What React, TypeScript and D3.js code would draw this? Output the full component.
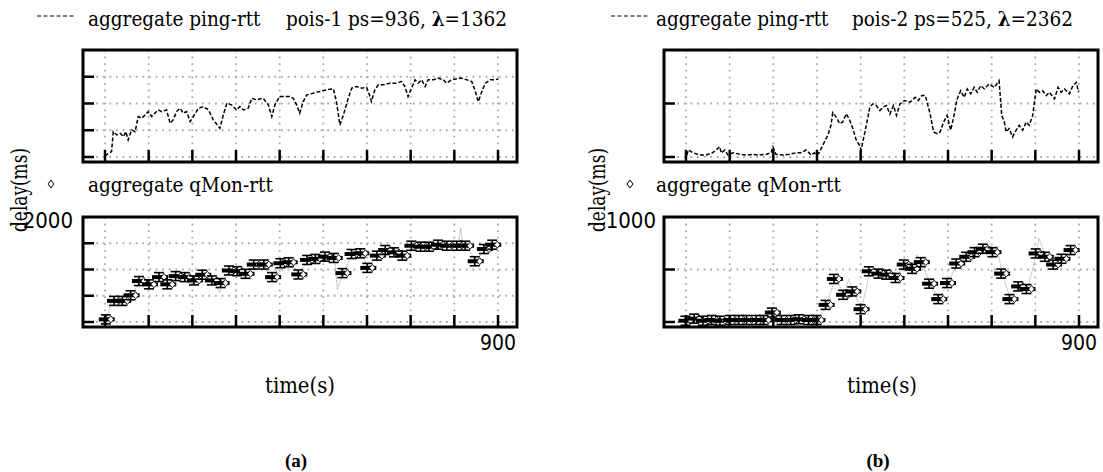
import React from "react";
import * as d3 from "d3";

// ---------- data ----------
const xTickValues = [0, 100, 200, 300, 400, 500, 600, 700, 800, 900];
const yTicksA = [0, 500, 1000, 1500];
const yTicksB = [0, 500];

const pingTimeA = [0, 8, 15, 19, 27, 35, 42, 48, 53, 61, 69, 76, 84, 92, 99, 107, 114, 122, 130, 141, 149, 156, 164, 172, 179, 187, 195, 202, 214, 225, 237, 248, 263, 271, 279, 290, 301, 309, 317, 328, 336, 347, 362, 374, 382, 389, 400, 412, 423, 431, 439, 446, 454, 462, 477, 492, 507, 523, 530, 538, 546, 557, 565, 576, 588, 599, 607, 610, 618, 626, 637, 652, 668, 679, 687, 694, 702, 710, 717, 725, 733, 740, 752, 763, 775, 782, 794, 806, 817, 829, 840, 848, 855, 863, 871, 882, 894, 901];
const pingValA = [20, 69, 100, 474, 412, 443, 381, 474, 318, 506, 474, 755, 724, 787, 849, 755, 818, 880, 849, 880, 631, 693, 849, 911, 818, 849, 662, 755, 911, 943, 880, 693, 537, 787, 1005, 974, 880, 943, 880, 911, 1099, 1068, 1099, 974, 755, 974, 1130, 1130, 1130, 1099, 974, 818, 1036, 1161, 1193, 1224, 1255, 1274, 1036, 599, 787, 1099, 1286, 1318, 1286, 1305, 1130, 1036, 1255, 1349, 1349, 1380, 1380, 1411, 1318, 1130, 1286, 1442, 1380, 1442, 1318, 1442, 1442, 1474, 1442, 1380, 1442, 1461, 1474, 1442, 1411, 1224, 1036, 1224, 1380, 1442, 1442, 1461];

const qTimeA = [4, 23, 42, 61, 80, 103, 126, 145, 164, 185, 206, 225, 247, 267, 286, 305, 324, 343, 366, 385, 404, 423, 445, 465, 484, 506, 526, 546, 567, 587, 603, 625, 644, 664, 683, 704, 725, 744, 765, 785, 808, 827, 849, 870, 889];
const qValA = [50, 402, 402, 509, 780, 717, 855, 717, 874, 855, 792, 900, 792, 742, 981, 968, 918, 1094, 1094, 855, 1119, 1138, 906, 1182, 1201, 1245, 1220, 931, 1295, 1308, 1031, 1264, 1371, 1327, 1264, 1453, 1434, 1434, 1472, 1453, 1453, 1453, 1157, 1390, 1472];

const qRawTimeA = [4, 14, 23, 42, 61, 80, 103, 126, 145, 155, 164, 185, 195, 206, 225, 247, 263, 267, 286, 305, 324, 343, 366, 378, 385, 404, 423, 445, 465, 484, 506, 526, 532, 545, 567, 587, 603, 625, 644, 664, 683, 690, 704, 725, 744, 765, 785, 808, 815, 820, 827, 849, 870, 889];
const qRawValA = [50, 380, 402, 402, 509, 780, 717, 855, 717, 700, 874, 855, 730, 792, 900, 792, 560, 742, 981, 968, 918, 1094, 1094, 800, 855, 1119, 1138, 906, 1182, 1201, 1245, 1220, 620, 931, 1295, 1308, 1031, 1264, 1371, 1327, 1264, 1150, 1453, 1434, 1434, 1472, 1453, 1453, 1790, 1453, 1453, 1157, 1390, 1472];

const pingTimeB = [2, 5, 16, 31, 46, 61, 69, 77, 81, 89, 96, 108, 123, 138, 153, 168, 184, 195, 199, 206, 222, 237, 252, 264, 275, 287, 294, 298, 305, 317, 325, 332, 336, 344, 352, 359, 367, 375, 382, 390, 397, 401, 405, 413, 421, 428, 436, 444, 451, 459, 467, 475, 482, 490, 501, 513, 525, 532, 540, 548, 559, 567, 575, 582, 590, 598, 606, 613, 621, 629, 637, 644, 652, 660, 667, 675, 683, 694, 706, 717, 723, 729, 733, 740, 748, 756, 763, 771, 779, 786, 794, 802, 809, 817, 825, 832, 844, 852, 859, 867, 878, 886, 894, 899];
const pingValB = [18, 65, 40, 18, 18, 40, 65, 96, 37, 65, 18, 40, 25, 18, 25, 18, 25, 40, 96, 25, 18, 25, 40, 40, 65, 18, 40, 18, 40, 142, 204, 296, 414, 373, 312, 327, 404, 343, 266, 157, 111, 65, 142, 296, 466, 497, 481, 435, 466, 481, 401, 481, 389, 497, 528, 512, 558, 528, 574, 574, 404, 234, 219, 234, 327, 389, 250, 373, 543, 620, 558, 636, 590, 651, 605, 667, 636, 682, 651, 713, 389, 327, 234, 266, 188, 250, 296, 250, 327, 296, 389, 636, 605, 620, 574, 605, 543, 651, 605, 636, 590, 667, 697, 605];

const qTimeB = [1, 21, 41, 61, 80, 103, 123, 141, 163, 180, 199, 221, 242, 261, 283, 301, 322, 341, 362, 383, 402, 421, 443, 461, 482, 501, 520, 540, 559, 580, 600, 621, 644, 663, 682, 704, 724, 743, 763, 782, 803, 824, 843, 862, 883];
const qValB = [12, 32, 12, 19, 12, 19, 19, 19, 19, 19, 90, 19, 19, 26, 19, 19, 163, 410, 259, 291, 122, 483, 461, 451, 419, 547, 506, 570, 365, 218, 371, 557, 621, 665, 698, 665, 461, 218, 339, 314, 653, 621, 547, 602, 685];

const qRawTimeB = [1, 21, 41, 61, 80, 103, 123, 141, 163, 180, 190, 199, 221, 242, 261, 283, 301, 322, 341, 352, 362, 372, 383, 402, 421, 443, 461, 482, 501, 512, 520, 528, 540, 559, 580, 590, 600, 621, 644, 663, 682, 704, 712, 724, 743, 763, 782, 803, 808, 824, 843, 852, 862, 883];
const qRawValB = [12, 32, 12, 19, 12, 19, 19, 19, 19, 19, 115, 90, 19, 19, 26, 19, 19, 163, 410, 340, 259, 403, 291, 122, 483, 461, 451, 419, 547, 520, 506, 640, 570, 365, 218, 300, 371, 557, 621, 665, 698, 665, 720, 461, 218, 339, 314, 653, 800, 621, 547, 610, 602, 685];

const yTopLabelA = "2000";
const yTopLabelB = "1000";
const xEndLabel = "900";

// ---------- layout ----------
const serif = "'DejaVu Serif Condensed', 'DejaVu Serif', serif";
const sansN = "'Liberation Sans Narrow', 'DejaVu Sans Condensed', sans-serif";
const GRID = "#aaaaaa";

type PanelProps = {
  x0: number;
  x900: number;
  fl: number;
  fr: number;
  ft: number;
  fb: number;
  y0: number;
  yTopVal: number;
  yTicks: number[];
  children: (xs: d3.ScaleLinear<number, number>, ys: d3.ScaleLinear<number, number>) => React.ReactNode;
};

function Panel({ x0, x900, fl, fr, ft, fb, y0, yTopVal, yTicks, children }: PanelProps) {
  const xs = d3.scaleLinear().domain([0, 900]).range([x0, x900]);
  const ys = d3.scaleLinear().domain([0, yTopVal]).range([y0, ft]);
  return (
    <g>
      {xTickValues.map((t) => (
        <line key={"gx" + t} x1={xs(t)} x2={xs(t)} y1={ft} y2={fb} stroke={GRID} strokeWidth={1.8} strokeDasharray="1.8,4.8" />
      ))}
      {yTicks.map((v) => (
        <line key={"gy" + v} x1={fl} x2={fr} y1={ys(v)} y2={ys(v)} stroke={GRID} strokeWidth={1.8} strokeDasharray="1.8,4.8" />
      ))}
      {children(xs, ys)}
      {xTickValues.map((t) => (
        <line key={"tx" + t} x1={xs(t)} x2={xs(t)} y1={fb} y2={fb - 12} stroke="#000" strokeWidth={2.5} />
      ))}
      {yTicks.map((v) => (
        <line key={"ty" + v} x1={fl} x2={fl + 11} y1={ys(v)} y2={ys(v)} stroke="#000" strokeWidth={2.5} />
      ))}
      <rect x={fl} y={ft} width={fr - fl} height={fb - ft} fill="none" stroke="#000" strokeWidth={3} />
    </g>
  );
}

function pingPath(xs: any, ys: any, ts: number[], vs: number[]) {
  const line = d3.line<number>().x((_, i) => xs(ts[i])).y((d) => ys(d));
  return <path d={line(vs) || ""} fill="none" stroke="#000" strokeWidth={1.5} strokeDasharray="4,2" />;
}

function qMarks(xs: any, ys: any, ts: number[], vs: number[], rts: number[], rvs: number[]) {
  const line = d3.line<number>().x((_, i) => xs(rts[i])).y((d) => ys(d));
  return (
    <g>
      <path d={line(rvs) || ""} fill="none" stroke="#999" strokeWidth={1} strokeDasharray="1,1" />
      {vs.map((v, i) => {
        const cx = xs(ts[i]);
        const cy = ys(v);
        return (
          <g key={i}>
            <rect x={cx - 8} y={cy - 2} width={16} height={4} fill="#000" />
            <line x1={cx - 1} x2={cx - 1} y1={cy - 4.5} y2={cy + 4.5} stroke="#000" strokeWidth={1.6} />
            <line x1={cx - 6} x2={cx + 4} y1={cy - 4.5} y2={cy - 4.5} stroke="#000" strokeWidth={1.6} />
            <line x1={cx - 6} x2={cx + 4} y1={cy + 4.5} y2={cy + 4.5} stroke="#000" strokeWidth={1.6} />
            <path d={`M${cx + 4},${cy - 3.5} L${cx + 7},${cy} L${cx + 4},${cy + 3.5} L${cx + 1},${cy} Z`} fill="#fff" stroke="#000" strokeWidth={0.9} />
          </g>
        );
      })}
    </g>
  );
}

function Diamond({ x, y }: { x: number; y: number }) {
  return <path d={`M${x},${y - 4} L${x + 3},${y} L${x},${y + 4} L${x - 3},${y} Z`} fill="#fff" stroke="#000" strokeWidth={1} />;
}

export default function App() {
  const OFF = 581;
  const lambdaTitle = (pre: string, post: string, x: number) => (
    <text x={x} y={26} textAnchor="end" fontFamily={serif} fontSize={20.5} fill="#000">
      {pre}
      <tspan fontWeight="bold">λ</tspan>
      {post}
    </text>
  );
  const legText = (label: string, x: number, y: number) => (
    <text x={x} y={y} fontFamily={serif} fontSize={20.5}>{label}</text>
  );
  return (
    <svg width={1103} height={472} style={{ position: "absolute", left: 0, top: 0, background: "#fff" }}>
      <rect x={0} y={0} width={1103} height={472} fill="#fff" />
      {/* legends */}
      <line x1={37} x2={75} y1={16} y2={16} stroke="#000" strokeWidth={1} strokeDasharray="4,2.5" />
      {legText("aggregate ping-rtt", 88, 26)}
      {lambdaTitle("pois-1 ps=936, ", "=1362", 507)}
      <Diamond x={51} y={184} />
      {legText("aggregate qMon-rtt", 88, 192)}

      <line x1={611} x2={649} y1={16} y2={16} stroke="#000" strokeWidth={1} strokeDasharray="4,2.5" />
      {legText("aggregate ping-rtt", 656, 26)}
      {lambdaTitle("pois-2 ps=525, ", "=2362", 1073)}
      <Diamond x={630} y={184} />
      {legText("aggregate qMon-rtt", 656, 192)}

      {/* panels */}
      <Panel x0={105} x900={498} fl={83} fr={517} ft={50} fb={162} y0={157} yTopVal={2000} yTicks={yTicksA}>
        {(xs, ys) => pingPath(xs, ys, pingTimeA, pingValA)}
      </Panel>
      <Panel x0={105} x900={498} fl={83} fr={517} ft={217} fb={327} y0={322} yTopVal={2000} yTicks={yTicksA}>
        {(xs, ys) => qMarks(xs, ys, qTimeA, qValA, qRawTimeA, qRawValA)}
      </Panel>
      <Panel x0={105 + OFF} x900={498 + OFF} fl={83 + OFF} fr={517 + OFF} ft={50} fb={162} y0={157} yTopVal={1000} yTicks={yTicksB}>
        {(xs, ys) => pingPath(xs, ys, pingTimeB, pingValB)}
      </Panel>
      <Panel x0={105 + OFF} x900={498 + OFF} fl={83 + OFF} fr={517 + OFF} ft={217} fb={327} y0={322} yTopVal={1000} yTicks={yTicksB}>
        {(xs, ys) => qMarks(xs, ys, qTimeB, qValB, qRawTimeB, qRawValB)}
      </Panel>

      {/* axis labels */}
      <text transform="translate(27,190) rotate(-90)" textAnchor="middle" fontFamily={serif} fontSize={22} textLength={84} lengthAdjust="spacingAndGlyphs">delay(ms)</text>
      <text transform="translate(605,190) rotate(-90)" textAnchor="middle" fontFamily={serif} fontSize={22} textLength={84} lengthAdjust="spacingAndGlyphs">delay(ms)</text>
      <text x={73} y={228} textAnchor="end" fontFamily={sansN} fontSize={22}>{yTopLabelA}</text>
      <text x={656} y={228} textAnchor="end" fontFamily={sansN} fontSize={22}>{yTopLabelB}</text>
      <text x={498} y={350} textAnchor="middle" fontFamily={sansN} fontSize={21}>{xEndLabel}</text>
      <text x={498 + OFF} y={350} textAnchor="middle" fontFamily={sansN} fontSize={21}>{xEndLabel}</text>
      <text x={300} y={393} textAnchor="middle" fontFamily={serif} fontSize={22} textLength={70} lengthAdjust="spacingAndGlyphs">time(s)</text>
      <text x={882} y={393} textAnchor="middle" fontFamily={serif} fontSize={22} textLength={70} lengthAdjust="spacingAndGlyphs">time(s)</text>
      <text x={296} y={467} textAnchor="middle" fontFamily="'Liberation Serif', serif" fontWeight="bold" fontSize={19}>(a)</text>
      <text x={878} y={467} textAnchor="middle" fontFamily="'Liberation Serif', serif" fontWeight="bold" fontSize={19}>(b)</text>
    </svg>
  );
}
